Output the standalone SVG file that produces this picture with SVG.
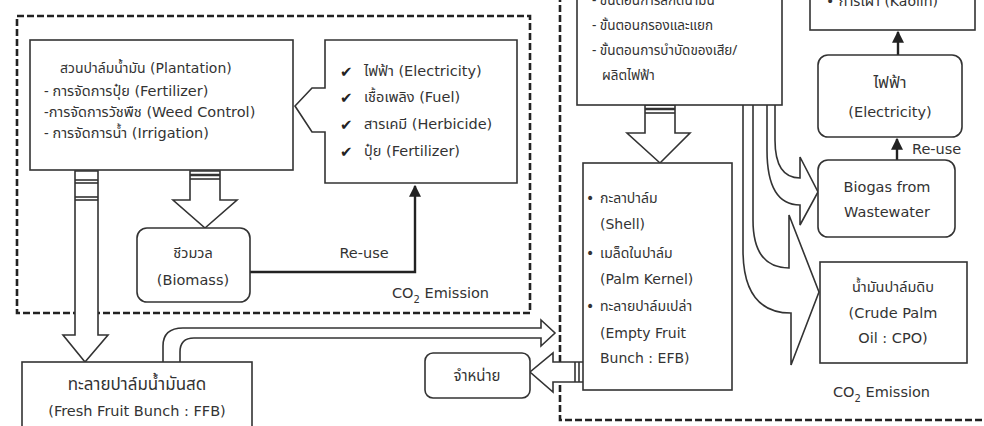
<svg xmlns="http://www.w3.org/2000/svg" width="984" height="426" viewBox="0 0 984 426">
<defs>
<marker id="ah" viewBox="0 0 10 10" refX="9" refY="5" markerWidth="5" markerHeight="5" orient="auto" markerUnits="strokeWidth">
<path d="M0,0 L10,5 L0,10 Z" fill="#222"/>
</marker>
<style>
.bg{fill:#fff}
.box{fill:#fff;stroke:#333;stroke-width:1.6}
.dash{fill:none;stroke:#222;stroke-width:2.6;stroke-dasharray:7 3}
.ln{fill:none;stroke:#333;stroke-width:1.6}
.ar{fill:#fff;stroke:#333;stroke-width:1.6;stroke-linejoin:miter}
.thk{fill:none;stroke:#222;stroke-width:2.4}
text{font-family:"DejaVu Sans","Noto Sans Thai","Liberation Sans",sans-serif;font-size:14.5px;fill:#333}
.th{font-family:"Noto Sans Thai","Liberation Sans",sans-serif;font-size:14.5px}
.s14{font-size:14px}
.c{text-anchor:middle}
.ck{font-family:"DejaVu Sans",sans-serif;font-size:15px;fill:#222}
</style>
</defs>
<rect class="bg" x="0" y="0" width="984" height="426"/>

<g id="boundaries">
<rect class="dash" x="17" y="16" width="513" height="297"/>
<path class="dash" d="M560,-5 V420 H990"/>
</g>

<g id="connectors">
<polygon class="ar" points="190,171 220,171 220,200 237,200 205,228 173,200 190,200"/>
<line class="ln" x1="190" y1="175" x2="220" y2="175" style="stroke-width:2.5"/>
<line class="ln" x1="190" y1="179" x2="220" y2="179"/>
<polygon class="ar" points="75,171 98,171 98,335 108,335 85,362 63,335 75,335"/>
<line class="ln" x1="75" y1="180" x2="98" y2="180"/>
<line class="ln" x1="75" y1="183" x2="98" y2="183"/>
<line class="ln" x1="75" y1="197" x2="98" y2="197"/>
<line class="ln" x1="75" y1="200" x2="98" y2="200"/>
<path class="thk" d="M250,272 H415 V186" marker-end="url(#ah)"/>
<path class="ar" d="M163,362 V346 Q163,328 183,328 H541 V320 L555,333 L541,346 V338 H194 Q180,338 180,352 V362"/>
<path class="ar" d="M583,362 H553 V353 L530,372 L553,392 V382 H583"/>
<line class="ln" x1="575" y1="362" x2="575" y2="382"/>
<line class="ln" x1="579" y1="362" x2="579" y2="382"/>
<polygon class="ar" points="645,105 675,105 675,133 690,133 660,163 627,133 645,133"/>
<line class="ln" x1="645" y1="109" x2="675" y2="109" style="stroke-width:2.5"/>
<line class="ln" x1="645" y1="113" x2="675" y2="113"/>
<path class="ar" d="M743,105 V250 Q743,313 791,313 V365 L819,292 L789,215 V268 Q753,268 753,220 V105"/>
<path class="ar" d="M767,105 V150 Q767,205 800,205 V225 L818,192 L800,157 V178 Q775,178 775,140 V105"/>
<path class="thk" d="M898,55 V32" marker-end="url(#ah)"/>
<path class="thk" d="M897,160 V139" marker-end="url(#ah)"/>
</g>

<g id="plantation">
<rect class="box" x="30" y="40" width="263" height="130"/>
<text x="60" y="73" class="s14"><tspan class="th" style="font-size:14px">สวนปาล์มน้ำมัน</tspan> (Plantation)</text>
<text x="44" y="96"><tspan class="th">- การจัดการปุ๋ย</tspan> (Fertilizer)</text>
<text x="44" y="117"><tspan class="th">-การจัดการวัชพืช</tspan> (Weed Control)</text>
<text x="44" y="138"><tspan class="th">- การจัดการน้ำ</tspan> (Irrigation)</text>
</g>

<g id="inputs">
<path class="box" d="M325,40 H517 V183 H325 V132 H312 L295,106 L312,88 H325 Z"/>
<text class="ck" x="340" y="77">✔</text>
<text x="364" y="76"><tspan class="th">ไฟฟ้า</tspan> (Electricity)</text>
<text class="ck" x="340" y="103">✔</text>
<text x="364" y="102"><tspan class="th">เชื้อเพลิง</tspan> (Fuel)</text>
<text class="ck" x="340" y="130">✔</text>
<text x="364" y="129"><tspan class="th">สารเคมี</tspan> (Herbicide)</text>
<text class="ck" x="340" y="157">✔</text>
<text x="364" y="156"><tspan class="th">ปุ๋ย</tspan> (Fertilizer)</text>
</g>

<g id="biomass">
<rect class="box" x="137" y="228" width="113" height="74" rx="10"/>
<text class="c th" x="193" y="258" style="font-size:14.5px">ชีวมวล</text>
<text class="c" x="193" y="285">(Biomass)</text>
</g>

<g id="reuse-left-label">
<text class="c" x="364" y="258">Re-use</text>
</g>

<g id="co2-left">
<text x="392" y="298">CO<tspan dy="5" font-size="10">2</tspan><tspan dy="-5"> Emission</tspan></text>
</g>

<g id="ffb">
<rect class="box" x="22" y="362" width="230" height="80"/>
<text class="c th" x="137" y="390" style="font-size:17px">ทะลายปาล์มน้ำมันสด</text>
<text class="c" x="137" y="416">(Fresh Fruit Bunch : FFB)</text>
</g>

<g id="sale">
<rect class="box" x="425" y="353" width="105" height="45" rx="8"/>
<text class="c th" x="477" y="381" style="font-size:15px">จำหน่าย</text>
</g>

<g id="process">
<rect class="box" x="577" y="-10" width="205" height="115"/>
<text class="th" x="592" y="5" style="font-size:13.5px">- ขั้นตอนการสกัดน้ำมัน</text>
<text class="th" x="592" y="30" style="font-size:13.5px">- ขั้นตอนกรองและแยก</text>
<text class="th" x="592" y="55" style="font-size:13.5px">- ขั้นตอนการบำบัดของเสีย/</text>
<text class="th" x="602" y="80" style="font-size:13.5px">ผลิตไฟฟ้า</text>
</g>

<g id="byproducts">
<rect class="box" x="583" y="163" width="149" height="227"/>
<text class="s14" x="586" y="203">•</text>
<text class="th" x="600" y="203" style="font-size:14px">กะลาปาล์ม</text>
<text class="s14" x="600" y="229">(Shell)</text>
<text class="s14" x="586" y="258">•</text>
<text class="th" x="600" y="258" style="font-size:14px">เมล็ดในปาล์ม</text>
<text class="s14" x="600" y="284">(Palm Kernel)</text>
<text class="s14" x="586" y="311">•</text>
<text class="th" x="600" y="311" style="font-size:14px">ทะลายปาล์มเปล่า</text>
<text class="s14" x="600" y="338">(Empty Fruit</text>
<text class="s14" x="600" y="363">Bunch : EFB)</text>
</g>

<g id="top-right">
<rect class="box" x="810" y="-10" width="165" height="40"/>
<text x="826" y="6" class="s14">• <tspan class="th">การเผา</tspan> (Kaolin)</text>
</g>

<g id="electricity">
<rect class="box" x="818" y="55" width="144" height="82" rx="10"/>
<text class="c th" x="890" y="88" style="font-size:16px">ไฟฟ้า</text>
<text class="c" x="890" y="117">(Electricity)</text>
</g>

<g id="reuse-right-label">
<text x="912" y="154">Re-use</text>
</g>

<g id="biogas">
<rect class="box" x="818" y="160" width="137" height="77" rx="10"/>
<text class="c" x="887" y="192">Biogas from</text>
<text class="c" x="887" y="217">Wastewater</text>
</g>

<g id="cpo">
<rect class="box" x="820" y="262" width="147" height="101"/>
<text class="c th" x="893" y="292" style="font-size:14.5px">น้ำมันปาล์มดิบ</text>
<text class="c" x="893" y="318">(Crude Palm</text>
<text class="c" x="893" y="343">Oil : CPO)</text>
</g>

<g id="co2-right">
<text x="833" y="397">CO<tspan dy="5" font-size="10">2</tspan><tspan dy="-5"> Emission</tspan></text>
</g>
</svg>
